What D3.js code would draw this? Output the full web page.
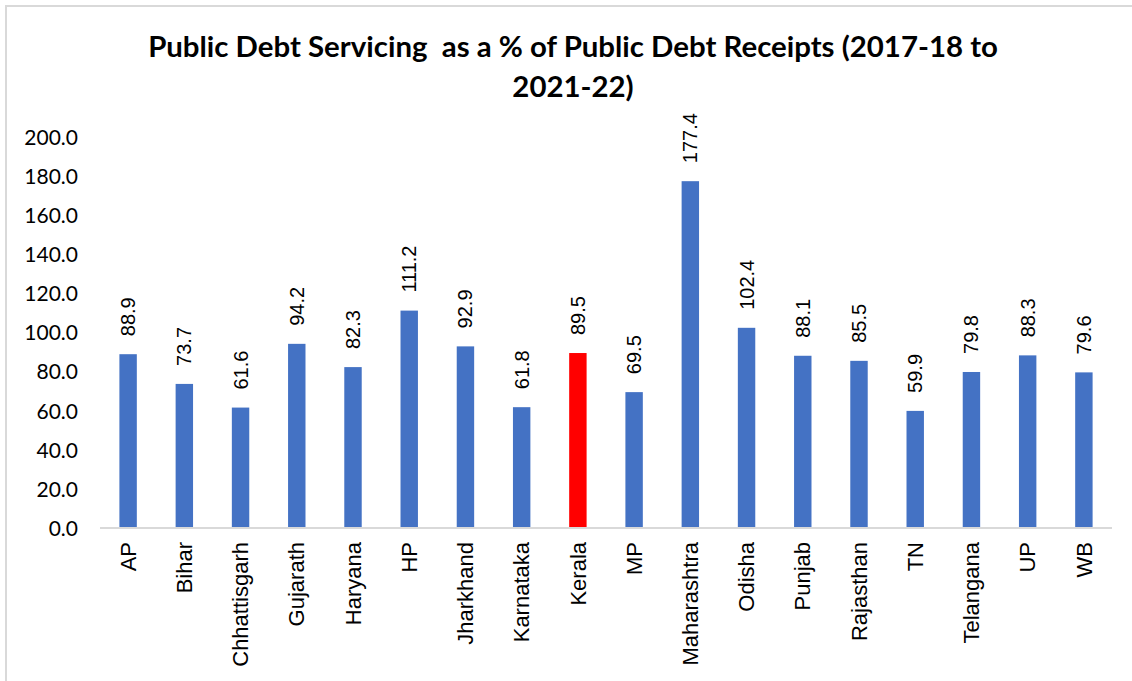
<!DOCTYPE html>
<html>
<head>
<meta charset="utf-8">
<script src="https://cdn.jsdelivr.net/npm/d3@7"></script>
<style>
  html, body { margin: 0; padding: 0; background: #fff; }
  svg { display: block; }
</style>
</head>
<body>
<div id="chart"></div>
<script>
// States and their public debt servicing as a % of public debt receipts
const states = ["AP", "Bihar", "Chhattisgarh", "Gujarath", "Haryana", "HP", "Jharkhand",
  "Karnataka", "Kerala", "MP", "Maharashtra", "Odisha", "Punjab", "Rajasthan", "TN",
  "Telangana", "UP", "WB"];
const ratios = [88.9, 73.7, 61.6, 94.2, 82.3, 111.2, 92.9, 61.8, 89.5, 69.5, 177.4,
  102.4, 88.1, 85.5, 59.9, 79.8, 88.3, 79.6];
const yTicks = [0, 20, 40, 60, 80, 100, 120, 140, 160, 180, 200];
const highlighted = ["Kerala"];
const titleLines = ["Public Debt Servicing  as a % of Public Debt Receipts (2017-18 to", "2021-22)"];

const W = 1132, H = 681;
const plot = { left: 100, right: 1112, top: 137, bottom: 528 };

const svg = d3.select("#chart").append("svg")
  .attr("width", W).attr("height", H);

svg.append("rect").attr("width", W).attr("height", H).attr("fill", "#fff");

// chart frame
svg.append("rect")
  .attr("x", 6).attr("y", 6).attr("width", 1160).attr("height", 720)
  .attr("fill", "none").attr("stroke", "#d9d9d9").attr("stroke-width", 2);

const data = states.map((s, i) => ({ state: s, value: ratios[i] }));

const x = d3.scaleBand().domain(states)
  .range([plot.left, plot.right])
  .paddingInner(0.69).paddingOuter(0.345);
const y = d3.scaleLinear().domain([0, 200]).range([plot.bottom, plot.top]);

// title
svg.append("text")
  .attr("x", 573).attr("y", 57)
  .attr("text-anchor", "middle")
  .style("font-family", "Lato, 'Open Sans', sans-serif")
  .style("font-weight", "bold")
  .style("font-size", "29.4px")
  .style("white-space", "pre")
  .selectAll("tspan").data(titleLines).join("tspan")
  .attr("x", 573).attr("dy", (d, i) => i === 0 ? 0 : 40)
  .text(d => d);

// y axis labels
const yAxis = d3.axisLeft(y).tickValues(yTicks).tickSize(0).tickPadding(0)
  .tickFormat(d3.format(".1f"));
const gy = svg.append("g").attr("transform", `translate(78,0)`).call(yAxis);
gy.select(".domain").remove();
gy.selectAll("text")
  .style("font-family", "Lato, sans-serif")
  .style("font-size", "21px")
  .attr("fill", "#000")
  .attr("dy", "0.35em");

// bars
svg.append("g").selectAll("rect").data(data).join("rect")
  .attr("x", d => x(d.state))
  .attr("width", x.bandwidth())
  .attr("y", d => y(d.value))
  .attr("height", d => y(0) - y(d.value))
  .attr("fill", d => highlighted.includes(d.state) ? "#ff0000" : "#4472c4");

// x axis line and category labels
const xAxis = d3.axisBottom(x).tickSize(0).tickPadding(0);
const gx = svg.append("g").attr("transform", `translate(0,${plot.bottom})`).call(xAxis);
gx.select(".domain").attr("stroke", "#d9d9d9").attr("stroke-width", 2)
  .attr("d", `M${plot.left},0H${plot.right}`);
gx.selectAll(".tick text")
  .attr("transform", "rotate(-90)")
  .attr("x", -14).attr("y", 0)
  .attr("dy", "0.35em")
  .attr("text-anchor", "end")
  .style("font-family", "'Liberation Sans', Arial, sans-serif")
  .style("font-size", "22px")
  .attr("fill", "#000");

// value labels
svg.append("g").selectAll("text").data(data).join("text")
  .attr("transform", d => `translate(${x(d.state) + x.bandwidth() / 2},${y(d.value) - 18}) rotate(-90)`)
  .attr("dy", "0.35em")
  .attr("text-anchor", "start")
  .style("font-family", "'Liberation Sans', Arial, sans-serif")
  .style("font-size", "20px")
  .attr("fill", "#000")
  .text(d => d.value.toFixed(1));
</script>
</body>
</html>
